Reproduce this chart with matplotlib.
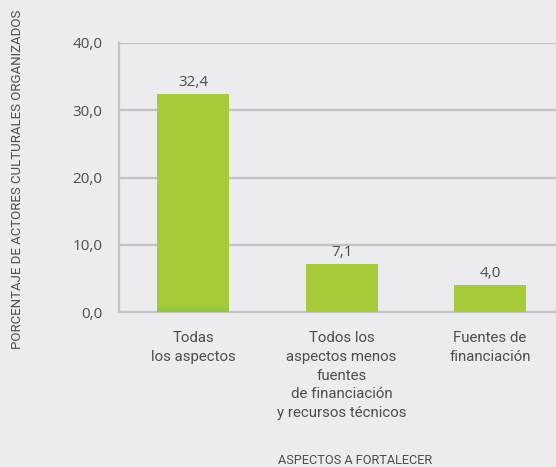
import matplotlib

matplotlib.use("Agg")

import matplotlib.pyplot as plt
import numpy as np
from matplotlib.colors import LinearSegmentedColormap

categories = [
    "Todas\nlos aspectos",
    "Todos los\naspectos menos\nfuentes\nde financiación\ny recursos técnicos",
    "Fuentes de\nfinanciación",
]
values = [32.4, 7.1, 4.0]
yticks = [0, 10, 20, 30, 40]

BG = "#ececee"
GRID = "#c3c3c5"
GREEN = "#a6cd39"
TEXT = "#4d4d4f"

fig = plt.figure(figsize=(5.56, 4.67), dpi=100, facecolor=BG)
ax = fig.add_axes([119 / 556, 1 - 312 / 467, 1 - 119 / 556, (312 - 43) / 467])
ax.set_facecolor(BG)

x = np.arange(len(values))
bars = ax.bar(x, values, width=0.485, color=GREEN, zorder=3)

# soft darker fade at the foot of the tallest bar
fade = LinearSegmentedColormap.from_list("fade", [GREEN, GREEN, "#8cc63f"])
b0 = bars[0]
grad = np.linspace(0, 1, 64).reshape(-1, 1) ** 1.5
ax.imshow(grad, cmap=fade, aspect="auto", origin="upper", zorder=4,
          extent=[b0.get_x(), b0.get_x() + b0.get_width(), 0, 3.0])

for xi, v in zip(x, values):
    ax.text(xi, v + 0.6, f"{v:.1f}".replace(".", ","), ha="center", va="bottom",
            fontsize=11, color=TEXT, family="Open Sans", zorder=5)

ax.set_xlim(-0.5, 2.445)
ax.set_ylim(0, 40)
ax.set_yticks(yticks)
ax.set_yticklabels([f"{t:.1f}".replace(".", ",") for t in yticks],
                   fontsize=11, color=TEXT, family="Open Sans")
ax.yaxis.grid(True, color=GRID, linewidth=1.6, zorder=0)
ax.tick_params(axis="y", length=0, pad=12)

ax.set_xticks(x)
ax.set_xticklabels(categories, fontsize=10.8, color=TEXT, family="Roboto",
                   linespacing=1.42, va="top")
ax.tick_params(axis="x", length=0, pad=14)

for side in ("top", "right"):
    ax.spines[side].set_visible(False)
for side in ("left", "bottom"):
    ax.spines[side].set_color(GRID)
    ax.spines[side].set_linewidth(1.6)
ax.spines["bottom"].set_zorder(2)

fig.text(355 / 556, 1 - 460 / 467, "ASPECTOS A FORTALECER", ha="center",
         va="center", fontsize=9.2, color=TEXT, family="Roboto")
fig.text(18 / 556, 1 - 179 / 467, "PORCENTAJE DE ACTORES CULTURALES ORGANIZADOS",
         rotation=90, ha="center", va="center", fontsize=9.5, color=TEXT,
         family="Roboto")

fig.savefig("out.png", dpi=100, facecolor=BG)
